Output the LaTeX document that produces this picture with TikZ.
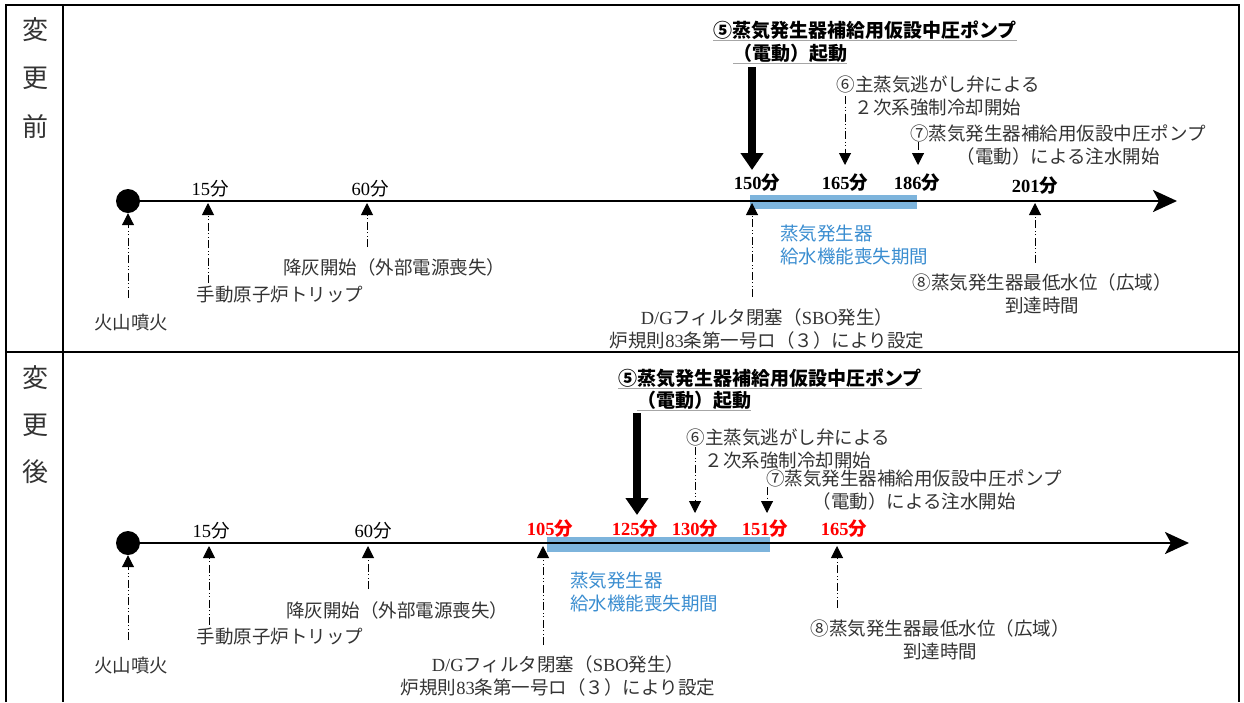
\documentclass[tikz,border=0pt]{standalone}
\usepackage{fontspec}
\setmainfont{Noto Sans CJK JP}
\newfontfamily\lat{Liberation Serif}
\usetikzlibrary{arrows.meta}
\definecolor{barblue}{HTML}{7DB4DC}
\definecolor{txtblue}{HTML}{3A8DD0}
\definecolor{txt}{HTML}{333333}
\tikzset{
 lbl/.style={inner sep=0pt, font=\fontsize{18.5}{23}\selectfont, text=txt, align=center},
 tm/.style={inner sep=0pt, font=\fontsize{18.5}{23}\selectfont, text=black},
 tmb/.style={inner sep=0pt, font=\fontsize{18.5}{23}\selectfont\bfseries, text=black},
 tmr/.style={tmb, text=red},
 hdr/.style={inner sep=0pt, font=\fontsize{19}{23}\selectfont\bfseries, text=black},
 side/.style={inner sep=0pt, font=\fontsize{26}{26}\selectfont, text=txt},
 ddot/.style={line width=1pt, dash pattern=on 8pt off 2.5pt on 1pt off 2.5pt on 1pt off 2.5pt, -{Triangle[width=12pt,length=12pt]}},
 bigarr/.style={line width=8pt, -{Triangle[width=22pt,length=17pt]}},
 tl/.style={line width=2.5pt, -{Stealth[length=24pt,width=22pt,inset=6pt]}},
 frame/.style={line width=2pt},
 uline/.style={line width=1.5pt, draw=gray!70},
 bar/.style={fill=barblue, draw=none},
 dot/.style={circle, fill=black, minimum size=24pt, inner sep=0pt},
}
\begin{document}
\begin{tikzpicture}[x=1pt,y=-1pt]
\useasboundingbox (0,0) rectangle (1244,702);
% frame
\draw[frame] (6,702) -- (6,5) -- (1239,5) -- (1239,702);
\draw[frame] (63,5) -- (63,702);
\draw[frame] (6,352) -- (1239,352);

% ================= top panel =================
\node[side] (sa1) at (35,30) {変};
\node[side] (sa2) at (35,78) {更};
\node[side] (sa3) at (35,127) {前};

\path[bar] (750,195) rectangle (917,209);
\node[dot] (c1) at (128,201) {};
\coordinate (e1) at (1177,201);
\draw[tl] (c1.center) -- (e1);

\node[hdr] (h1a) at (865,30) {⑤蒸気発生器補給用仮設中圧ポンプ};
\node[hdr, anchor=west] (h1b) at (733,53) {（電動）起動};
\draw[uline] ([yshift=-1pt]h1a.south west) -- ([yshift=-1pt]h1a.south east);
\draw[uline] ([yshift=-1pt]h1b.south west) -- ([yshift=-1pt]h1b.south east);

\node[tm] (t15) at (210,189) {{\lat 15}分};
\node[tm] (t60) at (370,189) {{\lat 60}分};
\node[tmb] (t150) at (757,183) {{\lat 150}分};
\node[tmb] (t165) at (845,183) {{\lat 165}分};
\node[tmb] (t186) at (917,183) {{\lat 186}分};
\node[tmb] (t201) at (1035,186) {{\lat 201}分};

\node[lbl] (v1) at (131,322) {火山噴火};
\node[lbl] (m1) at (280,295) {手動原子炉トリップ};
\node[lbl] (k1) at (394,267) {降灰開始（外部電源喪失）};
\node[lbl] (dg1) at (767,329) {{\lat D/G}フィルタ閉塞（{\lat SBO}発生）\\炉規則{\lat 83}条第一号ロ（３）により設定};
\node[lbl] (e6) at (938,95.5) {⑥主蒸気逃がし弁による\\２次系強制冷却開始};
\node[lbl] (e7) at (1058,145) {⑦蒸気発生器補給用仮設中圧ポンプ\\（電動）による注水開始};
\node[lbl] (e8) at (1042,294) {⑧蒸気発生器最低水位（広域）\\到達時間};
\node[lbl, text=txtblue, align=left, anchor=west] (b1) at (780,245) {蒸気発生器\\給水機能喪失期間};

\coordinate (a0s) at (128,298);
\coordinate (a15s) at (208,283); \coordinate (a15e) at (208,203);
\coordinate (a60s) at (367,247); \coordinate (a60e) at (367,203);
\coordinate (a150s) at (752,297); \coordinate (a150e) at (752,203);
\coordinate (a201s) at (1035,263); \coordinate (a201e) at (1035,203);
\coordinate (g1s) at (752,67); \coordinate (g1e) at (752,170);
\coordinate (d165s) at (845,96); \coordinate (d165e) at (845,165);
\coordinate (d186s) at (918,142); \coordinate (d186e) at (918,165);
\draw[ddot] (a0s) -- (c1.south);
\draw[ddot] (a15s) -- (a15e);
\draw[ddot] (a60s) -- (a60e);
\draw[ddot] (a150s) -- (a150e);
\draw[ddot] (a201s) -- (a201e);
\draw[ddot] (d165s) -- (d165e);
\draw[ddot] (d186s) -- (d186e);
\draw[bigarr] (g1s) -- (g1e);

% ================= bottom panel =================
\node[side] (sb1) at (35,378) {変};
\node[side] (sb2) at (35,425) {更};
\node[side] (sb3) at (35,472) {後};

\path[bar] (547,537) rectangle (770,552);
\node[dot] (c2) at (128,543) {};
\coordinate (e2) at (1189,543);
\draw[tl] (c2.center) -- (e2);

\node[hdr] (h2a) at (770,378) {⑤蒸気発生器補給用仮設中圧ポンプ};
\node[hdr, anchor=west] (h2b) at (637,400) {（電動）起動};
\draw[uline] ([yshift=-1pt]h2a.south west) -- ([yshift=-1pt]h2a.south east);
\draw[uline] ([yshift=-1pt]h2b.south west) -- ([yshift=-1pt]h2b.south east);

\node[tm] (u15) at (211,531) {{\lat 15}分};
\node[tm] (u60) at (373,531) {{\lat 60}分};
\node[tmr] (u105) at (550,529) {{\lat 105}分};
\node[tmr] (u125) at (635,529) {{\lat 125}分};
\node[tmr] (u130) at (695,529) {{\lat 130}分};
\node[tmr] (u151) at (765,529) {{\lat 151}分};
\node[tmr] (u165) at (844,529) {{\lat 165}分};

\node[lbl] (v2) at (131,665) {火山噴火};
\node[lbl] (m2) at (280,637) {手動原子炉トリップ};
\node[lbl] (k2) at (397,610) {降灰開始（外部電源喪失）};
\node[lbl] (dg2) at (558,675.5) {{\lat D/G}フィルタ閉塞（{\lat SBO}発生）\\炉規則{\lat 83}条第一号ロ（３）により設定};
\node[lbl] (f6) at (788,448.5) {⑥主蒸気逃がし弁による\\２次系強制冷却開始};
\node[lbl] (f7) at (914,490) {⑦蒸気発生器補給用仮設中圧ポンプ\\（電動）による注水開始};
\node[lbl] (f8) at (940,640) {⑧蒸気発生器最低水位（広域）\\到達時間};
\node[lbl, text=txtblue, align=left, anchor=west] (b2) at (570,591.5) {蒸気発生器\\給水機能喪失期間};

\coordinate (b0s) at (128,640);
\coordinate (b15s) at (209,625); \coordinate (b15e) at (209,546);
\coordinate (b60s) at (368,589); \coordinate (b60e) at (368,546);
\coordinate (b105s) at (543,645); \coordinate (b105e) at (543,546);
\coordinate (b165s) at (837,608); \coordinate (b165e) at (837,546);
\coordinate (g2s) at (637,413); \coordinate (g2e) at (637,515);
\coordinate (d130s) at (695,447); \coordinate (d130e) at (695,513);
\coordinate (d151s) at (767,487); \coordinate (d151e) at (767,513);
\draw[ddot] (b0s) -- (c2.south);
\draw[ddot] (b15s) -- (b15e);
\draw[ddot] (b60s) -- (b60e);
\draw[ddot] (b105s) -- (b105e);
\draw[ddot] (b165s) -- (b165e);
\draw[ddot] (d130s) -- (d130e);
\draw[ddot] (d151s) -- (d151e);
\draw[bigarr] (g2s) -- (g2e);
\end{tikzpicture}
\end{document}
